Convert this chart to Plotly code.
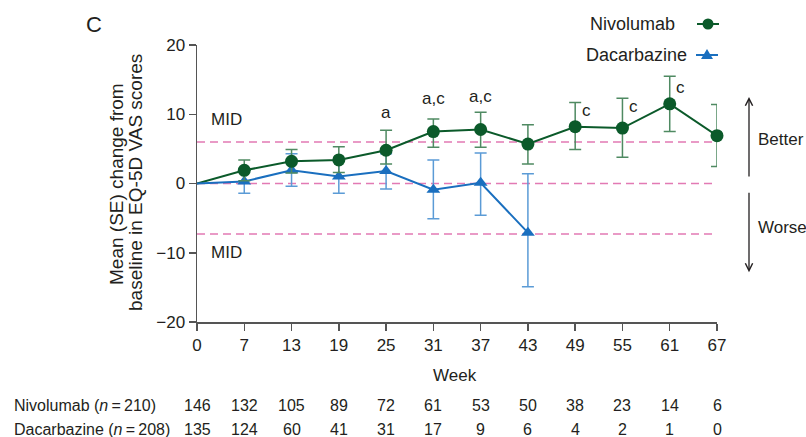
import plotly.graph_objects as go

# ---------------- data ----------------
weeks = ["0", "7", "13", "19", "25", "31", "37", "43", "49", "55", "61", "67"]

nivo_mean = [0, 1.9, 3.2, 3.4, 4.8, 7.5, 7.8, 5.7, 8.2, 8.0, 11.5, 6.9]
nivo_hi = [0, 3.4, 4.9, 5.3, 7.7, 9.3, 10.3, 8.5, 11.7, 12.3, 15.5, 11.4]
nivo_lo = [0, 0.4, 1.5, 1.6, 2.8, 5.25, 5.25, 2.8, 4.9, 3.8, 7.5, 2.45]

dac_weeks = ["0", "7", "13", "19", "25", "31", "37", "43"]
dac_mean = [0, 0.3, 1.9, 1.0, 1.8, -0.9, 0.1, -7.1]
dac_hi = [0, 1.9, 4.3, 3.5, 4.3, 3.4, 4.4, 1.4]
dac_lo = [0, -1.4, -0.4, -1.4, -0.8, -5.1, -4.6, -14.9]

mid_lines = [6.0, 0.0, -7.3]

sig_weeks = ["25", "31", "37", "49", "55", "61"]
sig_labels = ["a", "a,c", "a,c", "c", "c", "c"]
sig_y = [10.3, 12.3, 12.5, 10.6, 11.1, 13.9]
sig_side = ["top", "top", "top", "right", "right", "right"]

nivo_n = [146, 132, 105, 89, 72, 61, 53, 50, 38, 23, 14, 6]
dac_n = [135, 124, 60, 41, 31, 17, 9, 6, 4, 2, 1, 0]
nivo_label = "Nivolumab (<i>n</i>\u2009=\u2009210)"
dac_label = "Dacarbazine (<i>n</i>\u2009=\u2009208)"

# ---------------- styling ----------------
FONT = "Liberation Sans, Arial, sans-serif"
TXT = "#231f20"
GREEN = "#0b5a2a"
GREEN_ERR = "#4f8a62"
BLUE = "#1a6fbf"
BLUE_ERR = "#5b9bd6"
PINK = "#e27ab4"

# plot-area pixel frame
L, R, T, B = 197, 717, 45, 322
W, H = R - L, B - T


def px(x):
    return (x - L) / W


def py(y):
    return (B - y) / H


idx = {w: i for i, w in enumerate(weeks)}
xn = [idx[w] for w in weeks]
xd = [idx[w] for w in dac_weeks]

fig = go.Figure()

# MID / zero reference lines
for v in mid_lines:
    fig.add_shape(type="line", xref="x", yref="y", x0=0, x1=11.05, y0=v, y1=v,
                  line=dict(color=PINK, width=1.4, dash="8px,5px"), layer="below")

# lines
fig.add_trace(go.Scatter(x=xn, y=nivo_mean, mode="lines", cliponaxis=False,
                         line=dict(color=GREEN, width=2), showlegend=False, hoverinfo="skip"))
fig.add_trace(go.Scatter(x=xd, y=dac_mean, mode="lines", cliponaxis=False,
                         line=dict(color=BLUE, width=2), showlegend=False, hoverinfo="skip"))


def err(hi, lo, m):
    return [h - a for h, a in zip(hi, m)], [a - l for l, a in zip(lo, m)]


dp, dm = err(dac_hi, dac_lo, dac_mean)
fig.add_trace(go.Scatter(x=xd[1:], y=dac_mean[1:], mode="markers", cliponaxis=False,
                         marker=dict(symbol="triangle-up", size=12, color=BLUE),
                         error_y=dict(type="data", symmetric=False, array=dp[1:], arrayminus=dm[1:],
                                      color=BLUE_ERR, thickness=1.5, width=6),
                         showlegend=False))
npl, nmi = err(nivo_hi, nivo_lo, nivo_mean)
fig.add_trace(go.Scatter(x=xn[1:], y=nivo_mean[1:], mode="markers", cliponaxis=False,
                         marker=dict(symbol="circle", size=13, color=GREEN),
                         error_y=dict(type="data", symmetric=False, array=npl[1:], arrayminus=nmi[1:],
                                      color=GREEN_ERR, thickness=1.5, width=6),
                         showlegend=False))

# manual legend symbols (text left, symbol right), drawn as pixel-sized shapes
leg_items = [(708, 24, GREEN, "circle"), (707, 55, BLUE, "triangle")]
for cx, cy, col, kind in leg_items:
    fig.add_shape(type="line", xref="paper", yref="paper", x0=px(cx - 11), x1=px(cx + 11),
                  y0=py(cy), y1=py(cy), line=dict(color=col, width=2))
    if kind == "circle":
        fig.add_shape(type="circle", xref="paper", yref="paper", xsizemode="pixel",
                      ysizemode="pixel", xanchor=px(cx), yanchor=py(cy),
                      x0=-5.5, x1=5.5, y0=-5.5, y1=5.5, fillcolor=col, line=dict(width=0))
    else:
        fig.add_shape(type="path", xref="paper", yref="paper", xsizemode="pixel",
                      ysizemode="pixel", xanchor=px(cx), yanchor=py(cy),
                      path="M -6,-4 L 6,-4 L 0,6 Z", fillcolor=col, line=dict(width=0))


def txt(size):
    return dict(size=size, color=TXT, family=FONT)


ann = []
# legend text
ann.append(dict(xref="paper", yref="paper", x=px(677), y=py(24), text="Nivolumab", showarrow=False,
                xanchor="right", yanchor="middle", font=txt(18)))
ann.append(dict(xref="paper", yref="paper", x=px(689), y=py(55), text="Dacarbazine", showarrow=False,
                xanchor="right", yanchor="middle", font=txt(18)))
# panel letter
ann.append(dict(xref="paper", yref="paper", x=px(84), y=py(24), text="C", showarrow=False,
                xanchor="left", yanchor="middle", font=txt(22)))
# y-axis title (two lines, tight spacing)
ann.append(dict(xref="paper", yref="paper", x=px(116), y=py(184), text="Mean (SE) change from",
                showarrow=False, textangle=-90, xanchor="center", yanchor="middle", font=txt(19)))
ann.append(dict(xref="paper", yref="paper", x=px(135), y=py(183), text="baseline in EQ-5D VAS scores",
                showarrow=False, textangle=-90, xanchor="center", yanchor="middle", font=txt(19)))
# MID labels
ann.append(dict(xref="paper", yref="y", x=px(209), y=9.2, text="MID", showarrow=False,
                xanchor="left", yanchor="middle", font=txt(17)))
ann.append(dict(xref="paper", yref="y", x=px(209), y=-10.0, text="MID", showarrow=False,
                xanchor="left", yanchor="middle", font=txt(17)))
# significance labels
for w, t, yv, side in zip(sig_weeks, sig_labels, sig_y, sig_side):
    ann.append(dict(xref="x", yref="y", x=idx[w], y=yv, text=t, showarrow=False,
                    xanchor="center", yanchor="middle", xshift=(11 if side == "right" else 0),
                    font=txt(17)))
# Better / Worse arrows
ann.append(dict(xref="paper", yref="y", x=px(749), y=12.5, ax=0, ay=81,
                axref="pixel", ayref="pixel", text="", showarrow=True, arrowhead=5,
                arrowsize=1.1, arrowwidth=1.3, arrowcolor=TXT))
ann.append(dict(xref="paper", yref="y", x=px(749), y=-12.8, ax=0, ay=-81,
                axref="pixel", ayref="pixel", text="", showarrow=True, arrowhead=5,
                arrowsize=1.1, arrowwidth=1.3, arrowcolor=TXT))
ann.append(dict(xref="paper", yref="y", x=px(756), y=6.3, text="Better", showarrow=False,
                xanchor="left", yanchor="middle", font=txt(17)))
ann.append(dict(xref="paper", yref="y", x=px(756), y=-6.4, text="Worse", showarrow=False,
                xanchor="left", yanchor="middle", font=txt(17)))
# x title
ann.append(dict(xref="paper", yref="paper", x=px(455), y=py(375), text="Week",
                showarrow=False, xanchor="center", yanchor="middle", font=txt(17)))
# number at risk
ann.append(dict(xref="paper", yref="paper", x=px(12), y=py(406), text=nivo_label,
                showarrow=False, xanchor="left", yanchor="middle", font=txt(16)))
ann.append(dict(xref="paper", yref="paper", x=px(12), y=py(429), text=dac_label,
                showarrow=False, xanchor="left", yanchor="middle", font=txt(16)))
for i, (a, b) in enumerate(zip(nivo_n, dac_n)):
    ann.append(dict(xref="x", yref="paper", x=i, y=py(406), text=str(a), showarrow=False,
                    xanchor="center", yanchor="middle", font=txt(16)))
    ann.append(dict(xref="x", yref="paper", x=i, y=py(429), text=str(b), showarrow=False,
                    xanchor="center", yanchor="middle", font=txt(16)))

fig.update_layout(
    width=806, height=437,
    margin=dict(l=L, r=806 - R, t=T, b=437 - B),
    paper_bgcolor="white", plot_bgcolor="white",
    font=dict(family=FONT, size=16, color=TXT),
    showlegend=False,
    xaxis=dict(range=[0, 11], tickmode="array", tickvals=list(range(len(weeks))), ticktext=weeks,
               showgrid=False, zeroline=False, showline=True, linecolor="#555", linewidth=1.5,
               ticks="outside", ticklen=7, tickwidth=1.5, tickcolor="#555",
               tickfont=txt(17), fixedrange=True),
    yaxis=dict(range=[-20, 20], tickvals=[-20, -10, 0, 10, 20],
               ticktext=["\u221220", "\u221210", "0", "10", "20"],
               showgrid=False, zeroline=False, showline=True, linecolor="#555", linewidth=1.5,
               ticks="outside", ticklen=7, tickwidth=1.5, tickcolor="#555",
               tickfont=txt(17), fixedrange=True),
    annotations=ann,
)

fig.write_html("out.html", config={"displayModeBar": False, "staticPlot": True})

# remove default page margin so the figure sits at the window's top-left corner
with open("out.html", "r", encoding="utf-8") as f:
    html = f.read()
html = html.replace("<body>", '<body style="margin:0;padding:0;overflow:hidden">', 1)
with open("out.html", "w", encoding="utf-8") as f:
    f.write(html)
